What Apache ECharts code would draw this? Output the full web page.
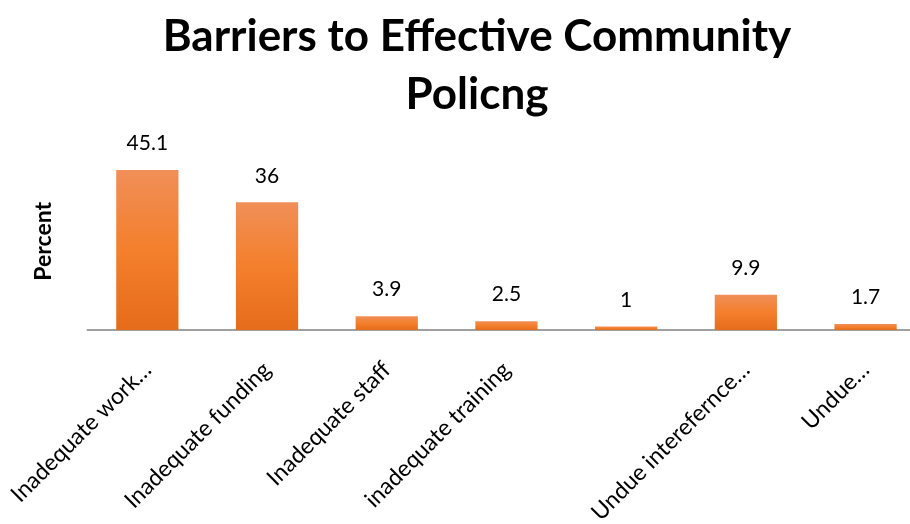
<!DOCTYPE html>
<html>
<head>
<meta charset="utf-8">
<script src="https://cdn.jsdelivr.net/npm/echarts@6/dist/echarts.min.js"></script>
<style>
  html, body { margin: 0; padding: 0; background: #fff; }
  #chart { width: 910px; height: 524px; }
</style>
</head>
<body>
<div id="chart"></div>
<script>
const categories = ['Inadequate work…', 'Inadequate funding', 'Inadequate staff', 'inadequate training', '', 'Undue interefernce…', 'Undue…']
const percents = [45.1, 36, 3.9, 2.5, 1, 9.9, 1.7]

const chart = echarts.init(document.getElementById('chart'))
chart.setOption({
  animation: false,
  title: {
    text: 'Barriers to Effective Community\nPolicng',
    left: 472,
    textAlign: 'center',
    top: 3,
    textStyle: {
      fontFamily: 'Lato',
      fontWeight: 'bold',
      fontSize: 44,
      lineHeight: 58,
      color: '#000',
    },
  },
  grid: {
    left: 87.5,
    right: -15.4,
    top: 152.6,
    bottom: 194,
    outerBoundsMode: 'none',
  },
  xAxis: {
    type: 'category',
    data: categories,
    axisLine: { lineStyle: { color: '#a0a0a0', width: 2 } },
    axisTick: { show: false },
    axisLabel: {
      interval: 0,
      rotate: 45,
      margin: 36,
      fontFamily: 'Lato',
      fontSize: 23,
      color: '#000',
    },
  },
  yAxis: {
    type: 'value',
    min: 0,
    max: 50,
    name: 'Percent',
    nameLocation: 'middle',
    nameGap: 32,
    nameRotate: 90,
    nameTextStyle: {
      fontFamily: 'Lato',
      fontWeight: 'bold',
      fontSize: 23,
      color: '#000',
    },
    axisLine: { show: false },
    axisTick: { show: false },
    axisLabel: { show: false },
    splitLine: { show: false },
  },
  series: [
    {
      type: 'bar',
      data: percents,
      barCategoryGap: '48%',
      itemStyle: {
        color: new echarts.graphic.LinearGradient(0, 0, 0, 1, [
          { offset: 0, color: '#F08F58' },
          { offset: 0.5, color: '#F47F2C' },
          { offset: 1, color: '#E56C1A' },
        ]),
      },
      label: {
        show: true,
        position: 'top',
        distance: 16,
        fontFamily: 'Lato',
        fontSize: 21,
        color: '#000',
      },
    },
  ],
})
</script>
</body>
</html>
